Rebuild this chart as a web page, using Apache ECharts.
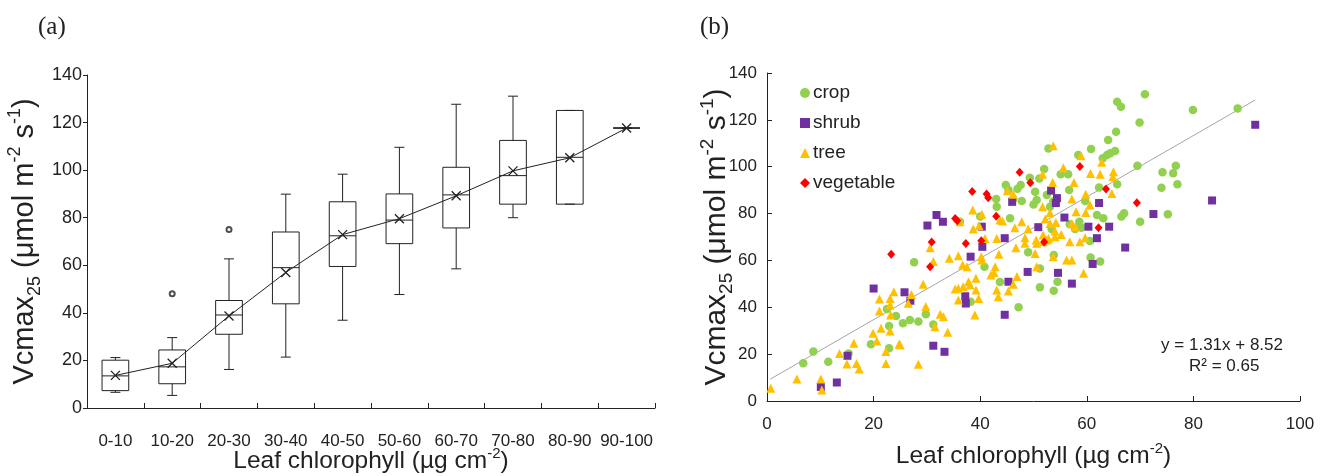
<!DOCTYPE html>
<html>
<head>
<meta charset="utf-8">
<script src="https://cdn.jsdelivr.net/npm/echarts@6/dist/echarts.min.js"></script>
<style>
html,body{margin:0;padding:0;background:#fff;}
#c{width:1322px;height:476px;}
</style>
</head>
<body>
<div id="c"></div>
<script>
// ---------- Panel (a): box plots ----------
var binLabels = ['0-10','10-20','20-30','30-40','40-50','50-60','60-70','70-80','80-90','90-100'];
// [lower whisker, Q1, median, Q3, upper whisker]
var boxStats = [
  [6.6, 7.3, 13.5, 20.1, 21.2],
  [5.3, 10.2, 17.3, 24.4, 29.6],
  [16.2, 31.0, 39.1, 45.2, 62.7],
  [21.4, 43.8, 59.0, 74.0, 89.9],
  [36.9, 59.5, 72.4, 86.7, 98.3],
  [47.7, 69.1, 79.0, 90.0, 109.6],
  [58.5, 75.7, 89.6, 101.2, 127.7],
  [80.0, 85.7, 97.7, 112.5, 131.1],
  [85.7, 85.7, 105.4, 125.1, 125.1],
  [117.7, 117.7, 117.7, 117.7, 117.7]
];
var binMeans = [13.7, 18.8, 38.7, 57.0, 72.9, 79.6, 89.2, 99.7, 105.2, 117.7];
var outliers = [[1, 48.0], [2, 75.0]];
var yTicksA = {min: 0, max: 140, interval: 20};

// ---------- Panel (b): scatter ----------
var cropPts = [[70.9,130.9],[65.7,127.7],[66.4,125.6],[88.3,124.9],[79.9,124.2],[69.9,118.9],[65.5,114.9],[64.0,111.4],[65.3,106.7],[64.4,105.7],[63.8,105.0],[52.8,107.8],[60.8,107.6],[58.4,105.0],[63.0,103.6],[52.0,99.0],[55.1,96.8],[56.5,96.8],[69.5,100.4],[76.7,100.4],[76.2,97.2],[74.2,97.6],[77.0,92.5],[74.0,91.0],[65.7,92.5],[62.3,91.1],[56.7,90.1],[51.1,95.0],[49.3,95.3],[47.6,92.2],[47.0,90.6],[44.8,92.2],[45.3,90.1],[46.2,86.2],[50.3,89.3],[50.6,85.8],[52.5,87.9],[53.7,85.1],[50.0,83.9],[53.1,82.9],[47.8,85.4],[45.6,78.0],[43.0,86.2],[43.1,82.9],[40.0,78.7],[36.2,76.5],[59.7,85.4],[61.9,79.4],[63.1,78.0],[66.5,78.7],[67.0,80.1],[70.0,76.5],[75.2,79.7],[60.6,68.3],[58.6,76.5],[59.0,74.0],[57.8,73.4],[56.8,75.4],[53.4,73.4],[53.8,62.3],[60.7,61.2],[62.5,59.5],[51.2,56.6],[54.5,50.9],[53.8,47.1],[51.2,48.5],[47.2,40.0],[43.7,50.8],[40.8,57.3],[38.2,42.4],[49.0,63.5],[27.6,59.2],[25.5,33.2],[26.8,34.6],[28.4,33.9],[29.8,37.0],[31.2,32.7],[24.2,36.3],[22.9,32.0],[22.5,39.3],[22.9,22.5],[19.5,24.2],[15.3,20.3],[11.5,16.8],[8.7,21.1],[6.8,16.1]];
var shrubPts = [[91.6,117.9],[83.5,85.6],[72.5,79.8],[67.2,65.5],[64.2,74.4],[62.3,84.5],[61.9,69.5],[61.1,58.5],[60.3,74.4],[57.2,50.1],[55.8,78.3],[54.6,54.7],[54.4,86.6],[54.2,84.5],[53.3,89.8],[50.9,74.2],[48.9,55.1],[45.3,50.9],[46.0,85.0],[44.6,69.5],[44.6,36.8],[40.3,74.4],[40.4,65.8],[38.2,61.6],[37.2,44.7],[37.3,41.6],[31.8,79.4],[33.0,76.5],[30.1,74.9],[31.2,23.6],[33.3,21.0],[25.8,46.4],[26.9,42.8],[20.0,48.0],[15.1,19.3],[13.1,7.9],[10.1,6.0]];
var treePts = [[53.7,109.0],[55.6,99.6],[58.9,104.7],[60.7,97.1],[62.5,96.8],[62.8,101.9],[65.0,97.9],[64.9,95.7],[64.7,88.6],[57.6,93.3],[59.8,88.2],[60.6,83.7],[57.2,86.2],[53.6,93.3],[51.7,82.9],[53.1,80.4],[58.0,80.8],[59.8,80.5],[51.7,96.8],[46.2,88.2],[45.1,89.7],[43.7,77.3],[47.8,76.5],[46.5,74.0],[49.0,73.4],[52.2,77.7],[53.1,75.8],[54.2,76.2],[54.0,72.6],[51.8,70.9],[48.4,69.7],[50.5,68.7],[52.8,69.4],[55.2,71.1],[57.2,75.8],[57.8,74.4],[59.7,69.7],[51.8,68.0],[58.7,68.0],[56.8,68.0],[38.6,81.5],[40.3,79.7],[38.7,73.4],[39.8,74.8],[44.2,76.8],[36.2,76.5],[40.9,69.4],[43.1,69.4],[30.6,65.4],[31.2,59.5],[34.2,60.9],[35.9,62.0],[36.7,58.0],[37.5,57.3],[40.2,61.6],[40.3,60.2],[42.8,57.3],[43.5,62.6],[42.6,54.9],[42.0,53.8],[39.2,52.4],[37.8,50.9],[38.1,49.5],[36.8,48.8],[35.9,48.1],[35.3,47.8],[39.2,47.4],[39.7,43.8],[35.9,43.1],[43.1,47.4],[43.4,44.5],[45.3,46.9],[46.2,49.8],[46.9,53.1],[46.7,65.4],[48.4,67.3],[50.3,63.0],[50.6,57.3],[50.6,67.3],[29.3,49.8],[27.1,45.5],[26.5,41.7],[29.8,40.3],[32.5,37.0],[33.1,36.0],[31.5,31.7],[33.9,29.3],[39.0,36.7],[28.4,15.7],[25.0,23.9],[0.7,5.4],[5.6,9.4],[10.1,9.4],[10.3,4.7],[13.6,20.3],[15.0,15.8],[16.3,24.6],[16.8,16.0],[17.3,13.7],[19.9,28.9],[20.6,25.6],[22.3,21.1],[22.3,16.0],[24.8,24.3],[21.1,43.5],[21.1,38.4],[21.4,31.0],[23.1,43.8],[23.2,36.7],[23.1,29.9],[23.8,46.6],[23.1,41.0],[54.0,70.1],[53.7,61.6],[56.2,60.2],[57.2,60.2],[59.4,54.5],[52.5,68.7]];
var vegPts = [[47.4,97.6],[49.4,93.2],[58.7,100.1],[63.6,90.5],[69.4,84.6],[62.2,74.0],[52.0,67.9],[38.5,89.4],[41.2,88.4],[41.5,86.7],[35.3,77.9],[35.7,76.9],[43.0,78.9],[30.9,67.9],[37.3,67.2],[40.2,68.4],[30.6,57.3],[23.3,62.6]];
var trendLine = [[0.6, 9.3], [91.6, 128.5]];
var eqText = ['y = 1.31x + 8.52', 'R² = 0.65'];
var xTicksB = {min: 0, max: 100, interval: 20};
var yTicksB = {min: 0, max: 140, interval: 20};

var SANS = "'Liberation Sans', Arial, sans-serif";

var yName = '{a|Vcmax}{sub|25}{a| (μmol m}{sup|-2}{a| s}{sup|-1}{a|)}';
function yRich(fs) {
  return {
    a: {fontSize: fs, fontFamily: SANS, color: '#222', lineHeight: 38, verticalAlign: 'middle'},
    sub: {fontSize: Math.round(fs * 0.63), fontFamily: SANS, color: '#222', lineHeight: 38, verticalAlign: 'bottom'},
    sup: {fontSize: Math.round(fs * 0.63), fontFamily: SANS, color: '#222', lineHeight: 38, verticalAlign: 'top'}
  };
}
var xName = '{a|Leaf chlorophyll (µg cm}{sup|-2}{a|)}';
var xNameRich = {
  a: {fontSize: 24.5, fontFamily: SANS, color: '#222', lineHeight: 30, verticalAlign: 'middle'},
  sup: {fontSize: 15, fontFamily: SANS, color: '#222', lineHeight: 30, verticalAlign: 'top'}
};

var chart = echarts.init(document.getElementById('c'), null, {renderer: 'canvas'});

var boxData = boxStats.map(function (s, i) { return [i].concat(s); });

function renderBox(params, api) {
  var idx = api.value(0);
  var band = api.size([1, 0])[0];
  var bw = band * 0.47;
  var cw = 10;
  var pLow = api.coord([idx, api.value(1)]);
  var pQ1 = api.coord([idx, api.value(2)]);
  var pMed = api.coord([idx, api.value(3)]);
  var pQ3 = api.coord([idx, api.value(4)]);
  var pHigh = api.coord([idx, api.value(5)]);
  var cx = pMed[0];
  var st = {stroke: '#222', lineWidth: 1, fill: null};
  var ch = [
    {type: 'rect', shape: {x: cx - bw / 2, y: pQ3[1], width: bw, height: pQ1[1] - pQ3[1]}, style: {stroke: '#222', lineWidth: 1, fill: '#fff'}},
    {type: 'line', shape: {x1: cx - bw / 2, y1: pMed[1], x2: cx + bw / 2, y2: pMed[1]}, style: st},
    {type: 'line', shape: {x1: cx, y1: pQ3[1], x2: cx, y2: pHigh[1]}, style: st},
    {type: 'line', shape: {x1: cx, y1: pQ1[1], x2: cx, y2: pLow[1]}, style: st},
    {type: 'line', shape: {x1: cx - cw / 2, y1: pHigh[1], x2: cx + cw / 2, y2: pHigh[1]}, style: st},
    {type: 'line', shape: {x1: cx - cw / 2, y1: pLow[1], x2: cx + cw / 2, y2: pLow[1]}, style: st}
  ];
  return {type: 'group', children: ch};
}

var axisLineStyle = {show: true, lineStyle: {color: '#222', width: 1}};

var option = {
  animation: false,
  backgroundColor: '#fff',
  textStyle: {fontFamily: SANS},
  grid: [
    {left: 87, top: 75, width: 568, height: 333, containLabel: false, outerBoundsMode: 'none'},
    {left: 767, top: 73, width: 533, height: 328, containLabel: false, outerBoundsMode: 'none'}
  ],
  legend: {
    data: ['crop', 'shrub', 'tree', 'vegetable'],
    orient: 'vertical',
    left: 795, top: 77,
    itemWidth: 10, itemHeight: 10, itemGap: 8,
    textStyle: {fontSize: 19, fontFamily: SANS, color: '#222', lineHeight: 22, padding: [0,0,0,-2]}
  },
  graphic: [
    {type: 'text', left: 38, top: 15, style: {text: '(a)', font: "25px 'Liberation Serif', 'DejaVu Serif', serif", fill: '#222'}},
    {type: 'text', left: 700, top: 15, style: {text: '(b)', font: "25px 'Liberation Serif', 'DejaVu Serif', serif", fill: '#222'}},
    {type: 'text', right: 1322 - 1283, top: 337, style: {text: eqText[0], font: "17px 'Liberation Sans', Arial, sans-serif", fill: '#222', align: 'right'}},
    {type: 'text', left: 1189, top: 358, style: {text: eqText[1], font: "17px 'Liberation Sans', Arial, sans-serif", fill: '#222'}}
  ],
  xAxis: [
    {
      type: 'category', gridIndex: 0, data: binLabels, boundaryGap: true,
      axisLine: axisLineStyle,
      axisTick: {show: true, inside: true, length: 5, lineStyle: {color: '#222'}},
      axisLabel: {fontSize: 17, fontFamily: SANS, color: '#222', margin: 25, interval: 0},
      name: xName, nameLocation: 'middle', nameGap: 38, nameMoveOverlap: false,
      nameTextStyle: {rich: xNameRich}
    },
    {
      type: 'value', gridIndex: 1, min: xTicksB.min, max: xTicksB.max, interval: xTicksB.interval,
      axisLine: axisLineStyle,
      axisTick: {show: true, inside: true, length: 5, lineStyle: {color: '#222'}},
      axisLabel: {fontSize: 17, fontFamily: SANS, color: '#222', margin: 15},
      splitLine: {show: false},
      name: xName, nameLocation: 'middle', nameGap: 40, nameMoveOverlap: false,
      nameTextStyle: {rich: xNameRich}
    }
  ],
  yAxis: [
    {
      type: 'value', gridIndex: 0, min: yTicksA.min, max: yTicksA.max, interval: yTicksA.interval,
      axisLine: axisLineStyle,
      axisTick: {show: true, inside: false, length: 4, lineStyle: {color: '#222'}},
      axisLabel: {fontSize: 18, fontFamily: SANS, color: '#222', margin: 5},
      splitLine: {show: false},
      name: yName, nameLocation: 'middle', nameGap: 43, nameMoveOverlap: false,
      nameTextStyle: {rich: yRich(29)}
    },
    {
      type: 'value', gridIndex: 1, min: yTicksB.min, max: yTicksB.max, interval: yTicksB.interval,
      axisLine: axisLineStyle,
      axisTick: {show: true, inside: true, length: 5, lineStyle: {color: '#222'}},
      axisLabel: {fontSize: 17, fontFamily: SANS, color: '#222', margin: 10},
      splitLine: {show: false},
      name: yName, nameLocation: 'middle', nameGap: 31, nameMoveOverlap: false,
      nameTextStyle: {rich: yRich(30)}
    }
  ],
  series: [
    {
      type: 'custom', xAxisIndex: 0, yAxisIndex: 0,
      renderItem: renderBox,
      encode: {x: 0, y: [1, 2, 3, 4, 5]},
      data: boxData, z: 2
    },
    {
      type: 'line', xAxisIndex: 0, yAxisIndex: 0,
      data: binMeans,
      symbol: 'path://M0,0L10,10M10,0L0,10', symbolSize: 9,
      itemStyle: {color: '#222', borderColor: '#222', borderWidth: 1.3},
      lineStyle: {color: '#222', width: 1}, z: 3
    },
    {
      type: 'scatter', xAxisIndex: 0, yAxisIndex: 0,
      data: outliers, symbol: 'emptyCircle', symbolSize: 5,
      itemStyle: {color: '#222', borderColor: '#222', borderWidth: 1}, z: 4
    },
    {
      type: 'line', xAxisIndex: 1, yAxisIndex: 1,
      data: trendLine, symbol: 'none',
      lineStyle: {color: '#a6a6a6', width: 1}, z: 1
    },
    {
      name: 'crop', type: 'scatter', xAxisIndex: 1, yAxisIndex: 1,
      data: cropPts, symbol: 'circle', symbolSize: 8.5,
      itemStyle: {color: '#92d050', opacity: 1}, z: 2
    },
    {
      name: 'shrub', type: 'scatter', xAxisIndex: 1, yAxisIndex: 1,
      data: shrubPts, symbol: 'rect', symbolSize: 8,
      itemStyle: {color: '#7030a0', opacity: 1}, z: 2
    },
    {
      name: 'tree', type: 'scatter', xAxisIndex: 1, yAxisIndex: 1,
      data: treePts, symbol: 'triangle', symbolSize: 9,
      itemStyle: {color: '#ffc000', opacity: 1}, z: 2
    },
    {
      name: 'vegetable', type: 'scatter', xAxisIndex: 1, yAxisIndex: 1,
      data: vegPts, symbol: 'diamond', symbolSize: [8, 9],
      itemStyle: {color: '#ff0000', opacity: 1}, z: 2
    }
  ]
};
chart.setOption(option);
</script>
</body>
</html>
